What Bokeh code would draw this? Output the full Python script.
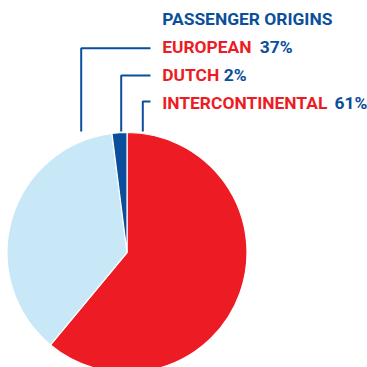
import math
from bokeh.plotting import figure
from bokeh.models import Range1d, ColumnDataSource
from bokeh.core.properties import value
from bokeh.embed import file_html
from bokeh.resources import INLINE

# ---- data ----
title = "PASSENGER ORIGINS"
categories = ["INTERCONTINENTAL", "EUROPEAN", "DUTCH"]
shares = [61, 37, 2]
slice_colors = ["#ed1c24", "#c8e8f8", "#0b4f9c"]

RED = "#ed1c24"
BLUE = "#0b4f9c"
FONT = "Roboto"

W = H = 367
p = figure(width=W, height=H, output_backend="svg", toolbar_location=None,
           x_range=Range1d(0, W), y_range=Range1d(0, H), min_border=0)
p.axis.visible = False
p.grid.visible = False
p.outline_line_color = None
p.background_fill_color = "white"
p.border_fill_color = "white"

def Y(img_y):
    return H - img_y
def X(img_x):
    return img_x

# pie, clockwise from 12 o'clock
total = float(sum(shares))
starts, ends = [], []
cum = 0.0
for s in shares:
    starts.append(math.pi / 2 - cum / total * 2 * math.pi)
    cum += s
    ends.append(math.pi / 2 - cum / total * 2 * math.pi)
src = ColumnDataSource(dict(start=starts, end=ends, color=slice_colors))
p.wedge(x=X(126.5), y=Y(252), radius=120, start_angle="start", end_angle="end",
        direction="clock", fill_color="color", line_color="white", line_width=1.2,
        source=src)

# leader lines (layout)
leaders = {
    "EUROPEAN": (80.7, 47.7),
    "DUTCH": (120.7, 75),
    "INTERCONTINENTAL": (142.3, 101),
}
for name, (lx, ly) in leaders.items():
    p.line(x=[X(lx), X(lx), X(150)], y=[Y(131), Y(ly), Y(ly)],
           line_color=BLUE, line_width=2)

# texts
dy = -5.5
tx = X(161.7)
fs = "17.4px"
p.text(x=[tx], y=[Y(24 + dy)], text=[title], text_color=BLUE, text_font=value(FONT),
       text_font_style="bold", text_font_size=fs, text_baseline="alphabetic")

label_baselines = {"EUROPEAN": 51.7, "DUTCH": 80, "INTERCONTINENTAL": 108}
pct_x = {"EUROPEAN": 259.3, "DUTCH": 223.3, "INTERCONTINENTAL": 334}
for name, val in zip(categories, shares):
    by = Y(label_baselines[name] + dy)
    p.text(x=[tx], y=[by], text=[name], text_color=RED, text_font=value(FONT),
           text_font_style="bold", text_font_size=fs, text_baseline="alphabetic")
    p.text(x=[X(pct_x[name])], y=[by], text=[f"{val}%"], text_color=BLUE,
           text_font=value(FONT), text_font_style="bold", text_font_size=fs,
           text_baseline="alphabetic")

open("out.html", "w").write(file_html(p, INLINE))
